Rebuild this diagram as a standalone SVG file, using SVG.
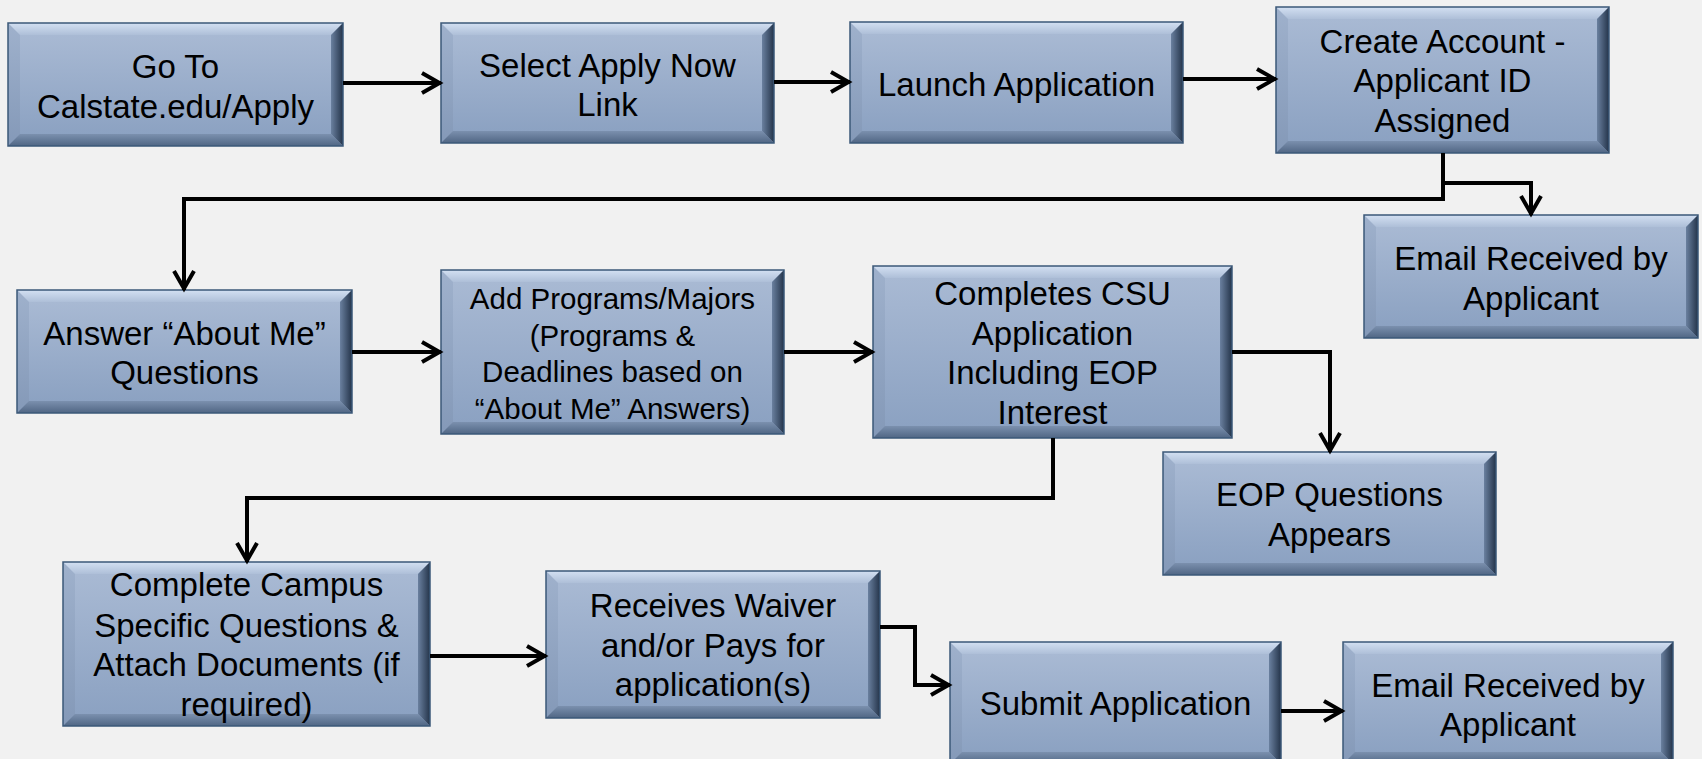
<svg xmlns="http://www.w3.org/2000/svg" width="1702" height="759" viewBox="0 0 1702 759">
<defs>
<linearGradient id="gFace" x1="0" y1="0" x2="0" y2="1"><stop offset="0" stop-color="#a8b9d3"/><stop offset="1" stop-color="#8ca2c2"/></linearGradient>
<linearGradient id="gTop" x1="0" y1="0" x2="0" y2="1"><stop offset="0" stop-color="#d3e0f2"/><stop offset="1" stop-color="#aebfd8"/></linearGradient>
<linearGradient id="gLeft" x1="0" y1="0" x2="0" y2="1"><stop offset="0" stop-color="#9fb1cc"/><stop offset="1" stop-color="#8499b8"/></linearGradient>
<linearGradient id="gRight" x1="0" y1="0" x2="1" y2="0"><stop offset="0" stop-color="#6a809f"/><stop offset="1" stop-color="#24344a"/></linearGradient>
<linearGradient id="gBottom" x1="0" y1="0" x2="0" y2="1"><stop offset="0" stop-color="#7b90ae"/><stop offset="1" stop-color="#506684"/></linearGradient>
<marker id="arr" markerUnits="userSpaceOnUse" viewBox="-22 -12 24 24" refX="0" refY="0" markerWidth="24" markerHeight="24" orient="auto" overflow="visible">
<path d="M-19,-10 L-1.5,0 L-19,10" fill="none" stroke="#000" stroke-width="4"/>
</marker>
</defs>
<style>
.edge{fill:url(#gLeft)}
.bt{fill:url(#gTop)}
.br{fill:url(#gRight)}
.bb{fill:url(#gBottom)}
.face{fill:url(#gFace)}
.frame{fill:none;stroke:#3b5878;stroke-width:1.5}
text{font-family:"Liberation Sans",Arial,sans-serif;font-size:33px;fill:#000;text-anchor:middle}
text.sm{font-size:29.5px}
.conn path{fill:none;stroke:#000;stroke-width:4;marker-end:url(#arr)}
</style>
<rect x="0" y="0" width="1702" height="759" fill="#f1f1f1"/>

<g id="n1" class="node">
<rect class="edge" x="8" y="23" width="335" height="123"/>
<polygon class="bt" points="8,23 343,23 331,35 20,35"/>
<polygon class="br" points="343,23 343,146 331,134 331,35"/>
<polygon class="bb" points="8,146 343,146 331,134 20,134"/>
<rect class="face" x="20" y="35" width="311" height="99"/>
<rect class="frame" x="8" y="23" width="335" height="123"/>
<text x="175.5" y="78">Go To</text>
<text x="175.5" y="118">Calstate.edu/Apply</text>
</g>

<g id="n2" class="node">
<rect class="edge" x="441" y="23" width="333" height="120"/>
<polygon class="bt" points="441,23 774,23 762,35 453,35"/>
<polygon class="br" points="774,23 774,143 762,131 762,35"/>
<polygon class="bb" points="441,143 774,143 762,131 453,131"/>
<rect class="face" x="453" y="35" width="309" height="96"/>
<rect class="frame" x="441" y="23" width="333" height="120"/>
<text x="607.5" y="77">Select Apply Now</text>
<text x="607.5" y="116">Link</text>
</g>

<g id="n3" class="node">
<rect class="edge" x="850" y="22" width="333" height="121"/>
<polygon class="bt" points="850,22 1183,22 1171,34 862,34"/>
<polygon class="br" points="1183,22 1183,143 1171,131 1171,34"/>
<polygon class="bb" points="850,143 1183,143 1171,131 862,131"/>
<rect class="face" x="862" y="34" width="309" height="97"/>
<rect class="frame" x="850" y="22" width="333" height="121"/>
<text x="1016.5" y="95.5">Launch Application</text>
</g>

<g id="n4" class="node">
<rect class="edge" x="1276" y="7" width="333" height="146"/>
<polygon class="bt" points="1276,7 1609,7 1597,19 1288,19"/>
<polygon class="br" points="1609,7 1609,153 1597,141 1597,19"/>
<polygon class="bb" points="1276,153 1609,153 1597,141 1288,141"/>
<rect class="face" x="1288" y="19" width="309" height="122"/>
<rect class="frame" x="1276" y="7" width="333" height="146"/>
<text x="1442.5" y="53">Create Account -</text>
<text x="1442.5" y="92">Applicant ID</text>
<text x="1442.5" y="132">Assigned</text>
</g>

<g id="n5" class="node">
<rect class="edge" x="1364" y="215" width="334" height="123"/>
<polygon class="bt" points="1364,215 1698,215 1686,227 1376,227"/>
<polygon class="br" points="1698,215 1698,338 1686,326 1686,227"/>
<polygon class="bb" points="1364,338 1698,338 1686,326 1376,326"/>
<rect class="face" x="1376" y="227" width="310" height="99"/>
<rect class="frame" x="1364" y="215" width="334" height="123"/>
<text x="1531" y="270">Email Received by</text>
<text x="1531" y="310">Applicant</text>
</g>

<g id="n6" class="node">
<rect class="edge" x="17" y="290" width="335" height="123"/>
<polygon class="bt" points="17,290 352,290 340,302 29,302"/>
<polygon class="br" points="352,290 352,413 340,401 340,302"/>
<polygon class="bb" points="17,413 352,413 340,401 29,401"/>
<rect class="face" x="29" y="302" width="311" height="99"/>
<rect class="frame" x="17" y="290" width="335" height="123"/>
<text x="184.5" y="345">Answer “About Me”</text>
<text x="184.5" y="384">Questions</text>
</g>

<g id="n7" class="node">
<rect class="edge" x="441" y="270" width="343" height="164"/>
<polygon class="bt" points="441,270 784,270 772,282 453,282"/>
<polygon class="br" points="784,270 784,434 772,422 772,282"/>
<polygon class="bb" points="441,434 784,434 772,422 453,422"/>
<rect class="face" x="453" y="282" width="319" height="140"/>
<rect class="frame" x="441" y="270" width="343" height="164"/>
<text class="sm" x="612.5" y="309">Add Programs/Majors</text>
<text class="sm" x="612.5" y="346">(Programs &amp;</text>
<text class="sm" x="612.5" y="382">Deadlines based on</text>
<text class="sm" x="612.5" y="419">“About Me” Answers)</text>
</g>

<g id="n8" class="node">
<rect class="edge" x="873" y="266" width="359" height="172"/>
<polygon class="bt" points="873,266 1232,266 1220,278 885,278"/>
<polygon class="br" points="1232,266 1232,438 1220,426 1220,278"/>
<polygon class="bb" points="873,438 1232,438 1220,426 885,426"/>
<rect class="face" x="885" y="278" width="335" height="148"/>
<rect class="frame" x="873" y="266" width="359" height="172"/>
<text x="1052.5" y="305">Completes CSU</text>
<text x="1052.5" y="345">Application</text>
<text x="1052.5" y="384">Including EOP</text>
<text x="1052.5" y="424">Interest</text>
</g>

<g id="n9" class="node">
<rect class="edge" x="1163" y="452" width="333" height="123"/>
<polygon class="bt" points="1163,452 1496,452 1484,464 1175,464"/>
<polygon class="br" points="1496,452 1496,575 1484,563 1484,464"/>
<polygon class="bb" points="1163,575 1496,575 1484,563 1175,563"/>
<rect class="face" x="1175" y="464" width="309" height="99"/>
<rect class="frame" x="1163" y="452" width="333" height="123"/>
<text x="1329.5" y="506">EOP Questions</text>
<text x="1329.5" y="546">Appears</text>
</g>

<g id="n10" class="node">
<rect class="edge" x="63" y="562" width="367" height="164"/>
<polygon class="bt" points="63,562 430,562 418,574 75,574"/>
<polygon class="br" points="430,562 430,726 418,714 418,574"/>
<polygon class="bb" points="63,726 430,726 418,714 75,714"/>
<rect class="face" x="75" y="574" width="343" height="140"/>
<rect class="frame" x="63" y="562" width="367" height="164"/>
<text x="246.5" y="596">Complete Campus</text>
<text x="246.5" y="637">Specific Questions &amp;</text>
<text x="246.5" y="676">Attach Documents (if</text>
<text x="246.5" y="716">required)</text>
</g>

<g id="n11" class="node">
<rect class="edge" x="546" y="571" width="334" height="147"/>
<polygon class="bt" points="546,571 880,571 868,583 558,583"/>
<polygon class="br" points="880,571 880,718 868,706 868,583"/>
<polygon class="bb" points="546,718 880,718 868,706 558,706"/>
<rect class="face" x="558" y="583" width="310" height="123"/>
<rect class="frame" x="546" y="571" width="334" height="147"/>
<text x="713" y="617">Receives Waiver</text>
<text x="713" y="657">and/or Pays for</text>
<text x="713" y="696">application(s)</text>
</g>

<g id="n12" class="node">
<rect class="edge" x="950" y="642" width="331" height="122"/>
<polygon class="bt" points="950,642 1281,642 1269,654 962,654"/>
<polygon class="br" points="1281,642 1281,764 1269,752 1269,654"/>
<polygon class="bb" points="950,764 1281,764 1269,752 962,752"/>
<rect class="face" x="962" y="654" width="307" height="98"/>
<rect class="frame" x="950" y="642" width="331" height="122"/>
<text x="1115.5" y="715">Submit Application</text>
</g>

<g id="n13" class="node">
<rect class="edge" x="1343" y="642" width="330" height="122"/>
<polygon class="bt" points="1343,642 1673,642 1661,654 1355,654"/>
<polygon class="br" points="1673,642 1673,764 1661,752 1661,654"/>
<polygon class="bb" points="1343,764 1673,764 1661,752 1355,752"/>
<rect class="face" x="1355" y="654" width="306" height="98"/>
<rect class="frame" x="1343" y="642" width="330" height="122"/>
<text x="1508" y="697">Email Received by</text>
<text x="1508" y="736">Applicant</text>
</g>

<g id="connectors" class="conn">
<path d="M343,83 H441"/>
<path d="M774,82 H850"/>
<path d="M1183,79 H1276"/>
<path d="M1443,153 V199 H184 V290"/>
<path d="M1443,183 H1531 V215"/>
<path d="M352,352 H441"/>
<path d="M784,352 H873"/>
<path d="M1232,352 H1330 V452"/>
<path d="M1053,438 V498 H247 V562"/>
<path d="M430,656 H546"/>
<path d="M880,627 H915 V685 H950"/>
<path d="M1281,711 H1343"/>
</g>
</svg>
